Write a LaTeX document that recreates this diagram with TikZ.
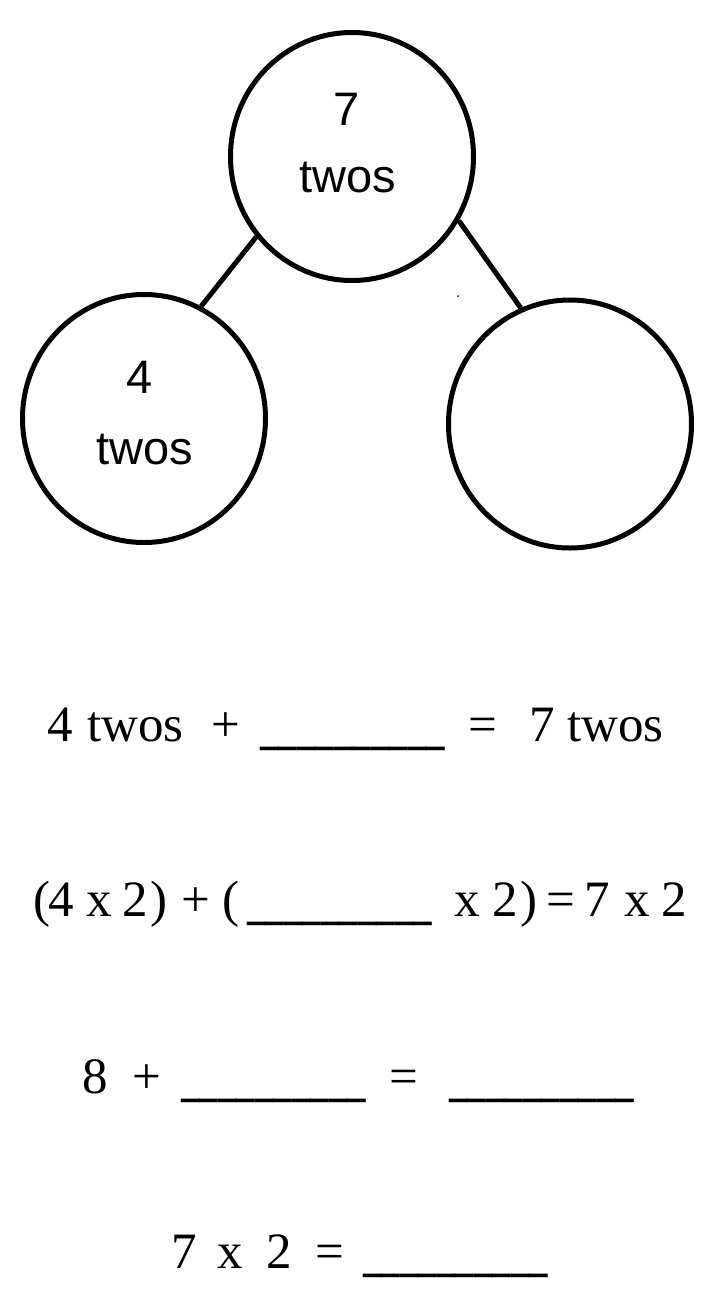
\documentclass[tikz,border=0pt]{standalone}
\usepackage{fontspec}
\usepackage{graphicx}
\setmainfont{Liberation Serif}
\newfontfamily\circlefont{Liberation Sans}
\usetikzlibrary{shapes.geometric}

\newcommand{\answerblank}{\scalebox{0.725}[1.4]{\_\_\_\_\_\_\_\_\_\_}}

\tikzset{
  bond/.style={ellipse, draw, line width=5pt, minimum width=243pt, minimum height=248pt},
  bondtext/.style={anchor=base, inner sep=0pt, font=\circlefont\fontsize{47pt}{56pt}\selectfont},
  eqtext/.style={anchor=base west, inner sep=0pt, font=\fontsize{51pt}{60pt}\selectfont}
}

\begin{document}
\begin{tikzpicture}[x=1pt, y=-1pt]
  \useasboundingbox (0,0) rectangle (715,1310);
  % number bond
  \node[bond] (whole) at (352,156.5) {};
  \node[bond] (partA) at (144,418.5) {};
  \node[bond] (partB) at (570,424) {};
  \draw[line width=5pt] (whole.220) -- (partA.63);
  \draw[line width=5pt] (whole.-31) -- (partB.113);
  \fill (458,296) circle (1pt);
  \node[bondtext] (wholeNum) at (347,125) {7};
  \node[bondtext] (wholeWord) at (348,192) {twos};
  \node[bondtext] (partANum) at (140,393) {4};
  \node[bondtext] (partAWord) at (145,464) {twos};

  % first line
  \foreach \x/\t [count=\i] in {47/4, 87/twos, 211/+, 260/\answerblank, 468/=, 529/7, 567/twos}
    \node[eqtext] (lineA-\i) at (\x,741) {\t};
  % second line
  \foreach \x/\t [count=\i] in {33/{(}, 48/4, 86/x, 122/2, 150/{)}, 181/+, 222/{(},
      247/\answerblank, 454/x, 492/2, 520/{)}, 546/=, 584/7, 624/x, 661/2}
    \node[eqtext] (lineB-\i) at (\x,916) {\t};
  % third line
  \foreach \x/\t [count=\i] in {82/8, 132/+, 181/\answerblank, 389/=, 449/\answerblank}
    \node[eqtext] (lineC-\i) at (\x,1093) {\t};
  % fourth line
  \foreach \x/\t [count=\i] in {171/7, 217/x, 266/2, 315/=, 363/\answerblank}
    \node[eqtext] (lineD-\i) at (\x,1268) {\t};
\end{tikzpicture}
\end{document}
